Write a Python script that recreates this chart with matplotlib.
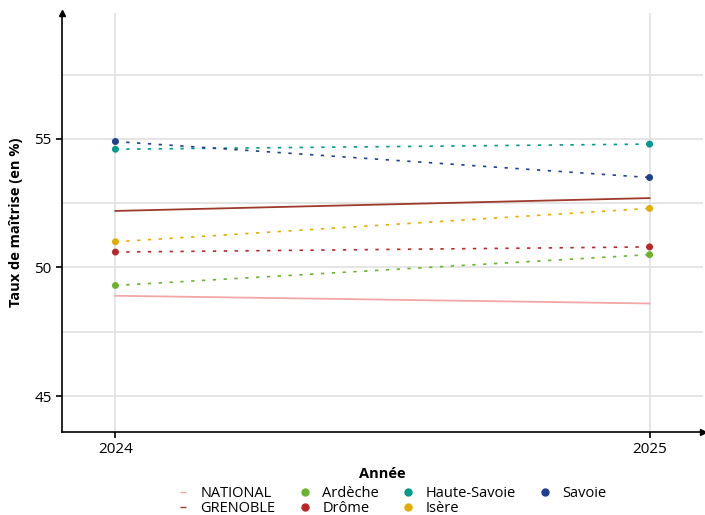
import matplotlib.pyplot as plt
from matplotlib.lines import Line2D

plt.rcParams['font.family'] = ['Open Sans', 'DejaVu Sans']

years = [2024, 2025]
national = [48.9, 48.6]
grenoble = [52.2, 52.7]
ardeche = [49.3, 50.5]
drome = [50.6, 50.8]
haute_savoie = [54.6, 54.8]
isere = [51.0, 52.3]
savoie = [54.9, 53.5]

fig = plt.figure(figsize=(7.05, 5.15), dpi=100)
ax = fig.add_axes([62 / 705, 1 - 432 / 515, 641 / 705, 419 / 515])

grid_c = '#e3e3e3'
for y in [45, 47.5, 50, 52.5, 55, 57.5]:
    ax.axhline(y, color=grid_c, lw=1.3, zorder=0)
for x in years:
    ax.axvline(x, color=grid_c, lw=1.3, zorder=0)

ax.plot(years, national, color='#f4a5a5', lw=1.3, zorder=2)
ax.plot(years, grenoble, color='#9e3a2b', lw=1.3, zorder=2)

depts = [
    ('Ardèche', ardeche, '#6ab42d'),
    ('Drôme', drome, '#b8282a'),
    ('Haute-Savoie', haute_savoie, '#009a8a'),
    ('Isère', isere, '#e5ac00'),
    ('Savoie', savoie, '#1f3f8f'),
]
for name, vals, c in depts:
    ax.plot(years, vals, color=c, lw=1.2, ls=(0, (2, 4.5)), zorder=3)
    ax.scatter(years, vals, color=c, s=25, zorder=4, edgecolors='none')

ax.set_xlim(2023.9, 2025.1)
ax.set_ylim(43.6, 59.9)
ax.set_xticks(years)
ax.set_yticks([45, 50, 55])
ax.tick_params(labelsize=11, length=4, width=1.2, color='black')
for s in ['top', 'right']:
    ax.spines[s].set_visible(False)
for s in ['left', 'bottom']:
    ax.spines[s].set_linewidth(1.2)
ax.plot(1, 0, '>k', ms=4, transform=ax.transAxes, clip_on=False)
ax.plot(0, 1, '^k', ms=4, transform=ax.transAxes, clip_on=False)

ax.set_ylabel('Taux de maîtrise (en %)', fontsize=10.5, fontweight='bold', labelpad=8)
ax.set_xlabel('Année', fontsize=10.5, fontweight='bold', labelpad=7)

handles = [
    Line2D([], [], color='#f4a5a5', marker='_', ls='none', ms=5),
    Line2D([], [], color='#9e3a2b', marker='_', ls='none', ms=5),
]
labels = ['NATIONAL', 'GRENOBLE']
for name, vals, c in depts:
    handles.append(Line2D([], [], color=c, marker='o', ls='none', ms=5))
    labels.append(name)
handles.append(Line2D([], [], ls='none'))
labels.append('')

fig.legend(handles, labels, ncol=4, loc='upper center', bbox_to_anchor=(0.556, 0.07),
           frameon=False, fontsize=10.5, handlelength=0.8, handletextpad=0.8,
           columnspacing=1.6, labelspacing=0.0, borderpad=0.0)

fig.savefig('out.png', dpi=100)
